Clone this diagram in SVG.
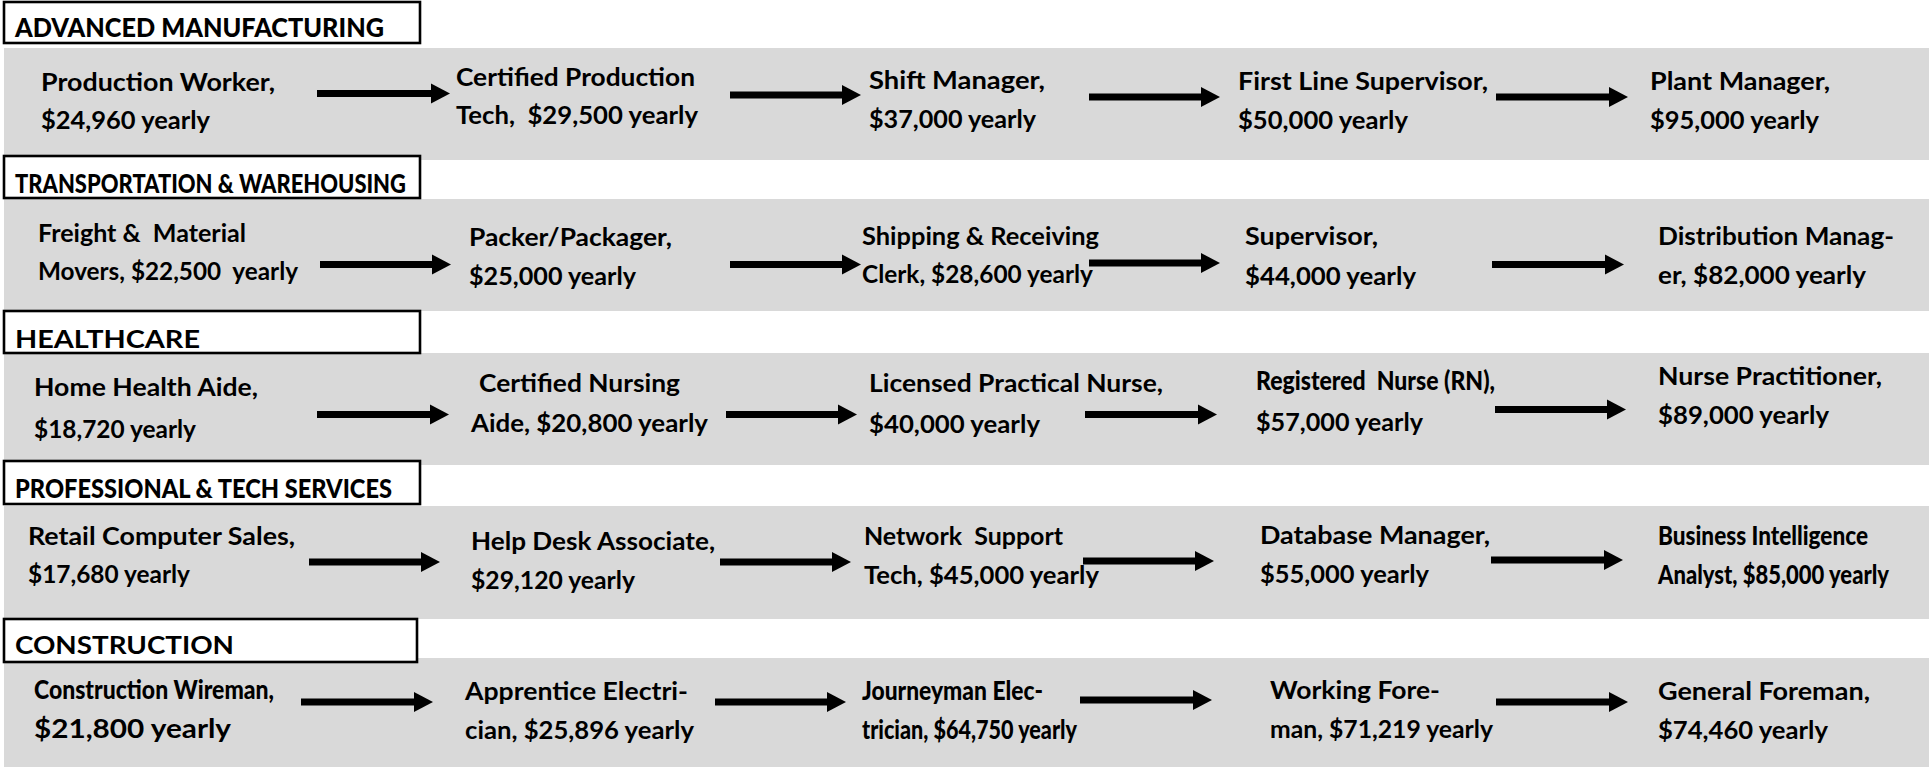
<svg xmlns="http://www.w3.org/2000/svg" width="1929" height="767" viewBox="0 0 1929 767" xml:space="preserve">
<style>
.band{fill:#d9d9d9}
.hbox{fill:#ffffff;stroke:#000;stroke-width:2.6}
.ht{font-family:Lato,"Liberation Sans",sans-serif;font-weight:700;font-size:25px;fill:#000;white-space:pre}
.nt{font-family:Lato,"Liberation Sans",sans-serif;font-weight:700;font-size:24.5px;fill:#000;white-space:pre}
.cx{font-weight:900;font-size:26px}
.arr{stroke:#000;stroke-width:7;fill:none}
</style>
<defs>
<marker id="ah" markerUnits="userSpaceOnUse" markerWidth="20" markerHeight="22" refX="0" refY="11" orient="auto" overflow="visible">
<path d="M0,1 L19,11 L0,21 z" fill="#000"/>
</marker>
</defs>
<rect width="1929" height="767" fill="#fff"/>
<g id="bands">
<rect class="band" x="4" y="48" width="1925" height="112"/>
<rect class="band" x="4" y="199" width="1925" height="112"/>
<rect class="band" x="4" y="353" width="1925" height="112"/>
<rect class="band" x="4" y="506" width="1925" height="113"/>
<rect class="band" x="4" y="658" width="1925" height="109"/>
</g>
<g id="hdr-manufacturing"><rect class="hbox" x="4" y="2" width="416" height="41"/><text class="ht cx" x="15" y="37" textLength="369" lengthAdjust="spacingAndGlyphs">ADVANCED MANUFACTURING</text></g>
<g id="hdr-transport"><rect class="hbox" x="4" y="156" width="416" height="42"/><text class="ht cx" x="15" y="193" textLength="391" lengthAdjust="spacingAndGlyphs">TRANSPORTATION &amp; WAREHOUSING</text></g>
<g id="hdr-healthcare"><rect class="hbox" x="4" y="311" width="416" height="42"/><text class="ht" x="15" y="348" textLength="185" lengthAdjust="spacingAndGlyphs">HEALTHCARE</text></g>
<g id="hdr-professional"><rect class="hbox" x="4" y="461" width="416" height="43"/><text class="ht cx" x="15" y="498" textLength="377" lengthAdjust="spacingAndGlyphs">PROFESSIONAL &amp; TECH SERVICES</text></g>
<g id="hdr-construction"><rect class="hbox" x="4" y="619" width="413" height="43"/><text class="ht" x="15" y="654" textLength="219" lengthAdjust="spacingAndGlyphs">CONSTRUCTION</text></g>

<g id="n-production-worker"><text class="nt" x="41" y="91" textLength="234" lengthAdjust="spacingAndGlyphs">Production Worker,</text><text class="nt" x="41" y="129" textLength="169" lengthAdjust="spacingAndGlyphs">$24,960 yearly</text></g>
<g id="n-cert-production"><text class="nt" x="456" y="86" textLength="239" lengthAdjust="spacingAndGlyphs">Certified Production</text><text class="nt" x="456" y="124" textLength="242" lengthAdjust="spacingAndGlyphs">Tech,  $29,500 yearly</text></g>
<g id="n-shift-manager"><text class="nt" x="869" y="89" textLength="176" lengthAdjust="spacingAndGlyphs">Shift Manager,</text><text class="nt" x="869" y="128" textLength="167" lengthAdjust="spacingAndGlyphs">$37,000 yearly</text></g>
<g id="n-first-line"><text class="nt" x="1238" y="90" textLength="250" lengthAdjust="spacingAndGlyphs">First Line Supervisor,</text><text class="nt" x="1238" y="129" textLength="170" lengthAdjust="spacingAndGlyphs">$50,000 yearly</text></g>
<g id="n-plant-manager"><text class="nt" x="1650" y="90" textLength="180" lengthAdjust="spacingAndGlyphs">Plant Manager,</text><text class="nt" x="1650" y="129" textLength="169" lengthAdjust="spacingAndGlyphs">$95,000 yearly</text></g>

<g id="n-freight"><text class="nt" x="38" y="242" textLength="208" lengthAdjust="spacingAndGlyphs">Freight &amp;  Material</text><text class="nt" x="38" y="280" textLength="260" lengthAdjust="spacingAndGlyphs">Movers, $22,500  yearly</text></g>
<g id="n-packer"><text class="nt" x="469" y="246" textLength="203" lengthAdjust="spacingAndGlyphs">Packer/Packager,</text><text class="nt" x="469" y="285" textLength="167" lengthAdjust="spacingAndGlyphs">$25,000 yearly</text></g>
<g id="n-shipping"><text class="nt" x="862" y="245" textLength="237" lengthAdjust="spacingAndGlyphs">Shipping &amp; Receiving</text><text class="nt" x="862" y="283" textLength="231" lengthAdjust="spacingAndGlyphs">Clerk, $28,600 yearly</text></g>
<g id="n-supervisor"><text class="nt" x="1245" y="245" textLength="133" lengthAdjust="spacingAndGlyphs">Supervisor,</text><text class="nt" x="1245" y="285" textLength="171" lengthAdjust="spacingAndGlyphs">$44,000 yearly</text></g>
<g id="n-distribution"><text class="nt" x="1658" y="245" textLength="236" lengthAdjust="spacingAndGlyphs">Distribution Manag-</text><text class="nt" x="1658" y="284" textLength="208" lengthAdjust="spacingAndGlyphs">er, $82,000 yearly</text></g>

<g id="n-home-health"><text class="nt" x="34" y="396" textLength="224" lengthAdjust="spacingAndGlyphs">Home Health Aide,</text><text class="nt" x="34" y="438" textLength="162" lengthAdjust="spacingAndGlyphs">$18,720 yearly</text></g>
<g id="n-cna"><text class="nt" x="479" y="392" textLength="201" lengthAdjust="spacingAndGlyphs">Certified Nursing</text><text class="nt" x="471" y="432" textLength="237" lengthAdjust="spacingAndGlyphs">Aide, $20,800 yearly</text></g>
<g id="n-lpn"><text class="nt" x="869" y="392" textLength="294" lengthAdjust="spacingAndGlyphs">Licensed Practical Nurse,</text><text class="nt" x="869" y="433" textLength="171" lengthAdjust="spacingAndGlyphs">$40,000 yearly</text></g>
<g id="n-rn"><text class="nt cx" x="1256" y="390" textLength="239" lengthAdjust="spacingAndGlyphs">Registered  Nurse (RN),</text><text class="nt" x="1256" y="431" textLength="167" lengthAdjust="spacingAndGlyphs">$57,000 yearly</text></g>
<g id="n-np"><text class="nt" x="1658" y="385" textLength="224" lengthAdjust="spacingAndGlyphs">Nurse Practitioner,</text><text class="nt" x="1658" y="424" textLength="171" lengthAdjust="spacingAndGlyphs">$89,000 yearly</text></g>

<g id="n-retail"><text class="nt" x="28" y="545" textLength="267" lengthAdjust="spacingAndGlyphs">Retail Computer Sales,</text><text class="nt" x="28" y="583" textLength="162" lengthAdjust="spacingAndGlyphs">$17,680 yearly</text></g>
<g id="n-helpdesk"><text class="nt" x="471" y="550" textLength="244" lengthAdjust="spacingAndGlyphs">Help Desk Associate,</text><text class="nt" x="471" y="589" textLength="164" lengthAdjust="spacingAndGlyphs">$29,120 yearly</text></g>
<g id="n-network"><text class="nt" x="864" y="545" textLength="199" lengthAdjust="spacingAndGlyphs">Network  Support</text><text class="nt" x="864" y="584" textLength="235" lengthAdjust="spacingAndGlyphs">Tech, $45,000 yearly</text></g>
<g id="n-database"><text class="nt" x="1260" y="544" textLength="230" lengthAdjust="spacingAndGlyphs">Database Manager,</text><text class="nt" x="1260" y="583" textLength="169" lengthAdjust="spacingAndGlyphs">$55,000 yearly</text></g>
<g id="n-bi"><text class="nt cx" x="1658" y="545" textLength="210" lengthAdjust="spacingAndGlyphs">Business Intelligence</text><text class="nt cx" x="1658" y="584" textLength="231" lengthAdjust="spacingAndGlyphs">Analyst, $85,000 yearly</text></g>

<g id="n-wireman"><text class="nt cx" x="34" y="699" textLength="240" lengthAdjust="spacingAndGlyphs">Construction Wireman,</text><text class="nt" x="34" y="738" textLength="197" lengthAdjust="spacingAndGlyphs" style="font-size:26px">$21,800 yearly</text></g>
<g id="n-apprentice"><text class="nt" x="465" y="700" textLength="223" lengthAdjust="spacingAndGlyphs">Apprentice Electri-</text><text class="nt" x="465" y="739" textLength="229" lengthAdjust="spacingAndGlyphs">cian, $25,896 yearly</text></g>
<g id="n-journeyman"><text class="nt cx" x="862" y="700" textLength="181" lengthAdjust="spacingAndGlyphs">Journeyman Elec-</text><text class="nt cx" x="862" y="739" textLength="215" lengthAdjust="spacingAndGlyphs">trician, $64,750 yearly</text></g>
<g id="n-working-foreman"><text class="nt" x="1270" y="699" textLength="170" lengthAdjust="spacingAndGlyphs">Working Fore-</text><text class="nt" x="1270" y="738" textLength="223" lengthAdjust="spacingAndGlyphs">man, $71,219 yearly</text></g>
<g id="n-general-foreman"><text class="nt" x="1658" y="700" textLength="212" lengthAdjust="spacingAndGlyphs">General Foreman,</text><text class="nt" x="1658" y="739" textLength="170" lengthAdjust="spacingAndGlyphs">$74,460 yearly</text></g>

<g id="connectors">
<line class="arr" x1="317" y1="93.5" x2="431" y2="93.5" marker-end="url(#ah)"/>
<line class="arr" x1="730" y1="95" x2="842" y2="95" marker-end="url(#ah)"/>
<line class="arr" x1="1089" y1="97" x2="1201" y2="97" marker-end="url(#ah)"/>
<line class="arr" x1="1496" y1="97" x2="1609" y2="97" marker-end="url(#ah)"/>

<line class="arr" x1="320" y1="264.5" x2="432" y2="264.5" marker-end="url(#ah)"/>
<line class="arr" x1="730" y1="264.5" x2="842" y2="264.5" marker-end="url(#ah)"/>
<line class="arr" x1="1089" y1="263" x2="1201" y2="263" marker-end="url(#ah)"/>
<line class="arr" x1="1492" y1="264.5" x2="1605" y2="264.5" marker-end="url(#ah)"/>

<line class="arr" x1="317" y1="414.5" x2="430" y2="414.5" marker-end="url(#ah)"/>
<line class="arr" x1="726" y1="414.5" x2="838" y2="414.5" marker-end="url(#ah)"/>
<line class="arr" x1="1085" y1="414.5" x2="1198" y2="414.5" marker-end="url(#ah)"/>
<line class="arr" x1="1495" y1="409.5" x2="1607" y2="409.5" marker-end="url(#ah)"/>

<line class="arr" x1="309" y1="562" x2="421" y2="562" marker-end="url(#ah)"/>
<line class="arr" x1="720" y1="562" x2="832" y2="562" marker-end="url(#ah)"/>
<line class="arr" x1="1083" y1="561" x2="1195" y2="561" marker-end="url(#ah)"/>
<line class="arr" x1="1491" y1="560" x2="1604" y2="560" marker-end="url(#ah)"/>

<line class="arr" x1="301" y1="702" x2="414" y2="702" marker-end="url(#ah)"/>
<line class="arr" x1="715" y1="702" x2="827" y2="702" marker-end="url(#ah)"/>
<line class="arr" x1="1080" y1="700" x2="1193" y2="700" marker-end="url(#ah)"/>
<line class="arr" x1="1496" y1="702" x2="1609" y2="702" marker-end="url(#ah)"/>
</g>
</svg>
